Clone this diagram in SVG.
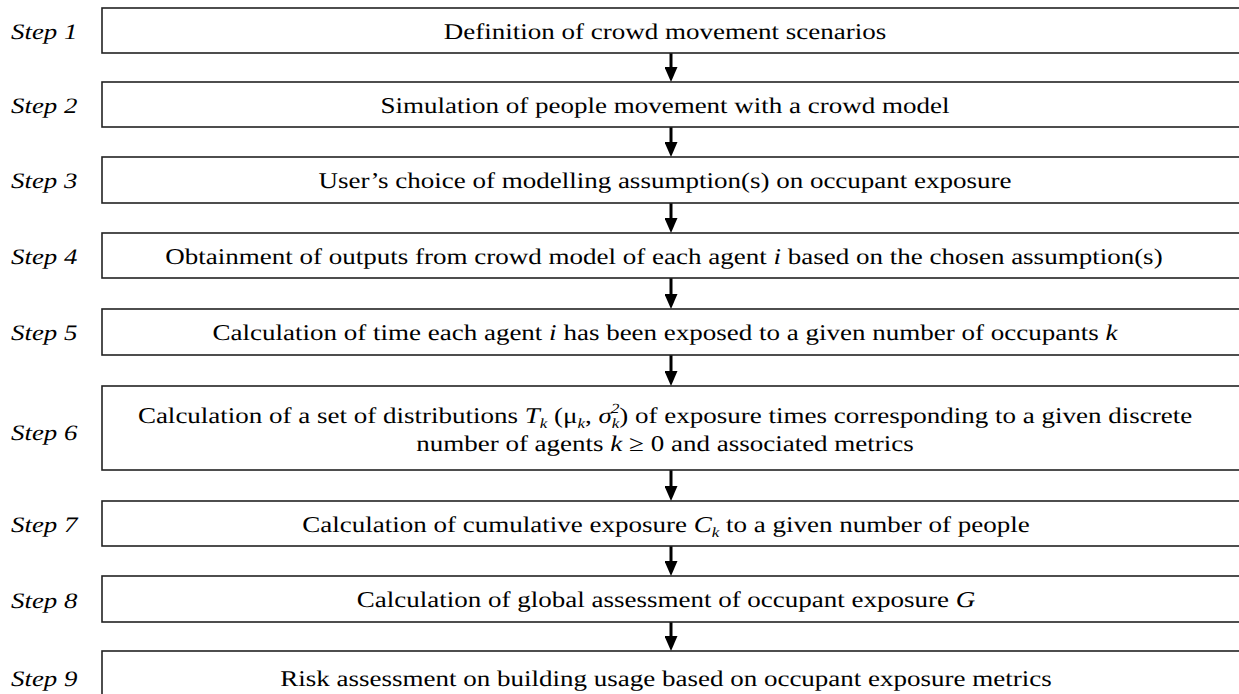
<svg xmlns="http://www.w3.org/2000/svg" width="1239" height="694" viewBox="0 0 1239 694">
  <style>
    text { text-rendering: geometricPrecision; }
    .box { fill: #ffffff; stroke: #222222; stroke-width: 1.6; }
    .txt { font-family: "Liberation Serif", "Times New Roman", serif; font-size: 22.5px; fill: #000000; text-anchor: middle; }
    .step { font-family: "Liberation Serif", "Times New Roman", serif; font-size: 22px; font-style: italic; fill: #000000; }
    .m { font-style: italic; }
    .sub { font-size: 14px; font-style: italic; }
    .flow { stroke: #000000; stroke-width: 3; fill: none; marker-end: url(#head); }
  </style>
  <defs>
    <!-- filled arrowhead; the shaft stops 10px before the tip -->
    <marker id="head" markerUnits="userSpaceOnUse" markerWidth="15" markerHeight="13" viewBox="0 0 15 13" refX="5" refY="6.5" orient="auto">
      <path d="M0,0 L15,6.5 L0,13 Z" fill="#000000"/>
    </marker>
  </defs>
  <rect width="1239" height="694" fill="#ffffff"/>

  <!-- connectors between consecutive steps -->
  <g id="connectors">
    <line class="flow" x1="671" y1="53" x2="671" y2="72"/>
    <line class="flow" x1="671" y1="127" x2="671" y2="147"/>
    <line class="flow" x1="671" y1="203" x2="671" y2="223"/>
    <line class="flow" x1="671" y1="278" x2="671" y2="299"/>
    <line class="flow" x1="671" y1="355" x2="671" y2="376"/>
    <line class="flow" x1="671" y1="470" x2="671" y2="491"/>
    <line class="flow" x1="671" y1="546" x2="671" y2="566"/>
    <line class="flow" x1="671" y1="622" x2="671" y2="641"/>
  </g>

  <g id="step1">
    <text class="step" transform="translate(11,39) scale(1.22,1)">Step 1</text>
    <rect class="box" x="102" y="8" width="1160" height="45"/>
    <text class="txt" transform="translate(665,39) scale(1.2,1)">Definition of crowd movement scenarios</text>
  </g>

  <g id="step2">
    <text class="step" transform="translate(11,113) scale(1.22,1)">Step 2</text>
    <rect class="box" x="102" y="82" width="1160" height="45"/>
    <text class="txt" transform="translate(665,113) scale(1.2,1)">Simulation of people movement with a crowd model</text>
  </g>

  <g id="step3">
    <text class="step" transform="translate(11,188) scale(1.22,1)">Step 3</text>
    <rect class="box" x="102" y="157" width="1160" height="46"/>
    <text class="txt" transform="translate(665,188) scale(1.2,1)">User’s choice of modelling assumption(s) on occupant exposure</text>
  </g>

  <g id="step4">
    <text class="step" transform="translate(11,264) scale(1.22,1)">Step 4</text>
    <rect class="box" x="102" y="233" width="1160" height="45"/>
    <text class="txt" transform="translate(664,264) scale(1.2,1)">Obtainment of outputs from crowd model of each agent <tspan class="m">i</tspan> based on the chosen assumption(s)</text>
  </g>

  <g id="step5">
    <text class="step" transform="translate(11,340) scale(1.22,1)">Step 5</text>
    <rect class="box" x="102" y="309" width="1160" height="46"/>
    <text class="txt" transform="translate(665,340) scale(1.2,1)">Calculation of time each agent <tspan class="m">i</tspan> has been exposed to a given number of occupants <tspan class="m">k</tspan></text>
  </g>

  <g id="step6">
    <text class="step" transform="translate(11,440) scale(1.22,1)">Step 6</text>
    <rect class="box" x="102" y="386" width="1160" height="84"/>
    <text class="txt" transform="translate(665,423) scale(1.2,1)">Calculation of a set of distributions <tspan class="m">T</tspan><tspan class="sub" dy="5">k</tspan><tspan dy="-5"> (μ</tspan><tspan class="sub" dy="5">k</tspan><tspan dy="-5">, </tspan><tspan class="m">σ</tspan><tspan class="sub" dy="5">k</tspan><tspan class="sub" font-style="normal" dx="-7" dy="-15">2</tspan><tspan dy="10">) of exposure times corresponding to a given discrete</tspan></text>
    <text class="txt" transform="translate(665,451) scale(1.2,1)">number of agents <tspan class="m">k</tspan> ≥ 0 and associated metrics</text>
  </g>

  <g id="step7">
    <text class="step" transform="translate(11,532) scale(1.22,1)">Step 7</text>
    <rect class="box" x="102" y="501" width="1160" height="45"/>
    <text class="txt" transform="translate(666,532) scale(1.2,1)">Calculation of cumulative exposure <tspan class="m">C</tspan><tspan class="sub" dy="5">k</tspan><tspan dy="-5"> to a given number of people</tspan></text>
  </g>

  <g id="step8">
    <text class="step" transform="translate(11,608) scale(1.22,1)">Step 8</text>
    <rect class="box" x="102" y="576" width="1160" height="46"/>
    <text class="txt" transform="translate(666,607) scale(1.2,1)">Calculation of global assessment of occupant exposure <tspan class="m">G</tspan></text>
  </g>

  <g id="step9">
    <text class="step" transform="translate(11,686) scale(1.22,1)">Step 9</text>
    <rect class="box" x="102" y="651" width="1160" height="50"/>
    <text class="txt" transform="translate(666,686) scale(1.2,1)">Risk assessment on building usage based on occupant exposure metrics</text>
  </g>
</svg>
